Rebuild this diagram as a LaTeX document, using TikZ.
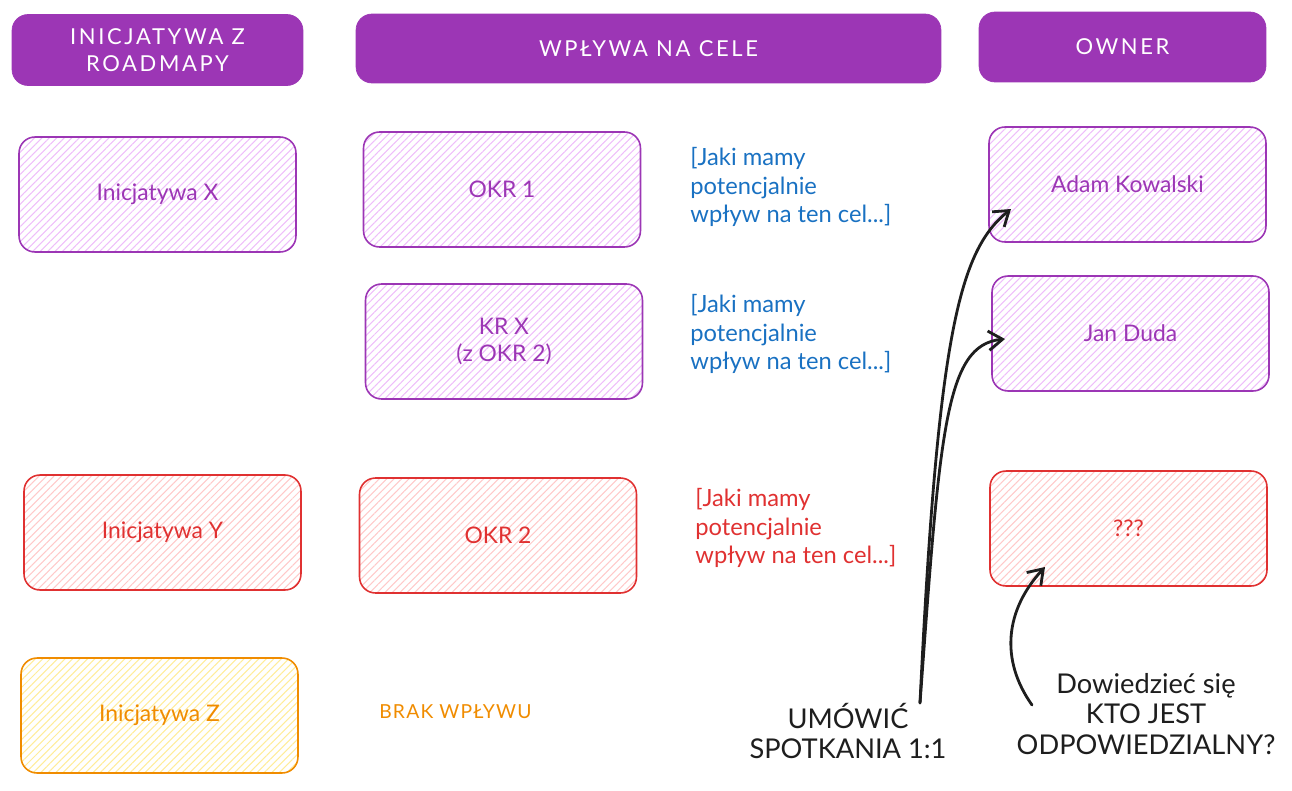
\documentclass[tikz,border=0pt]{standalone}
\usepackage{fontspec}
\setmainfont{Lato}
\usetikzlibrary{arrows.meta,patterns.meta}
\definecolor{Vio}{HTML}{9C36B5}
\definecolor{Viop}{HTML}{EEBEFA}
\definecolor{Rd}{HTML}{E03131}
\definecolor{Rdp}{HTML}{FFC9C9}
\definecolor{Org}{HTML}{F08C00}
\definecolor{Orgp}{HTML}{FFEC99}
\definecolor{Blu}{HTML}{1971C2}
\definecolor{Ink}{HTML}{1E1E1E}

\begin{document}
\begin{tikzpicture}[x=0.02cm,y=-0.02cm,
  head/.style={fill=Vio,draw=Vio,rounded corners=0.32cm,text=white,
    font=\fontsize{12.5}{15}\selectfont\addfontfeatures{LetterSpace=12},align=center,minimum height=1.42cm},
  card/.style={draw=#1,line width=0.9pt,rounded corners=0.32cm,minimum width=5.54cm,
    minimum height=2.3cm,text=#1,font=\fontsize{13}{15}\selectfont,align=center},
  hatch/.style={pattern={Lines[angle=45,distance=3pt,line width=0.6pt]},pattern color=#1},
  note/.style={text=#1,font=\fontsize{13.5}{16}\selectfont,align=left,anchor=west,inner sep=0pt},
  said/.style={text=Ink,font=\fontsize{15.5}{17.5}\selectfont,align=center},
  arr/.style={Ink,line width=1.6pt,line cap=round,-{Straight Barb[length=8pt,width=11pt]}}]
  \useasboundingbox (0,0) rectangle (1292,791);
  \node[head,minimum width=5.82cm] (hinit) at (157.5,50) {INICJATYWA Z\\ROADMAPY};
  \node[head,minimum width=11.7cm,minimum height=1.38cm] (hcele) at (648.5,48.5) {WPŁYWA NA CELE};
  \node[head,minimum width=5.74cm,minimum height=1.4cm] (hown) at (1122.5,47) {OWNER};
  \foreach \nm/\x/\y/\c/\p/\txt in {
    ix/157.5/194.5/Vio/Viop/Inicjatywa X,
    okra/502/189.5/Vio/Viop/OKR 1,
    krx/504/341.5/Vio/Viop/{KR X\\(z OKR 2)},
    adam/1127.5/184.5/Vio/Viop/Adam Kowalski,
    jan/1130.5/333.5/Vio/Viop/Jan Duda,
    iy/162.5/532.5/Rd/Rdp/Inicjatywa Y,
    okrb/498/535.5/Rd/Rdp/OKR 2,
    nobody/1128.5/528.5/Rd/Rdp/???,
    iz/159.5/715.5/Org/Orgp/Inicjatywa Z} {
    \node[card=\c,hatch=\p] (\nm) at (\x,\y) {\txt};
  }
  \node[note=Blu] (wpa) at (690,187) {[Jaki mamy\\potencjalnie\\wpływ na ten cel...]};
  \node[note=Blu] (wpb) at (690,334) {[Jaki mamy\\potencjalnie\\wpływ na ten cel...]};
  \node[note=Rd] (wpc) at (695,528) {[Jaki mamy\\potencjalnie\\wpływ na ten cel...]};
  \node[text=Org,font=\fontsize{11}{13}\selectfont\addfontfeatures{LetterSpace=6},anchor=west,inner sep=0pt] (brak) at (379,712) {BRAK WPŁYWU};
  \node[said] (umow) at (848,731) {UMÓWIĆ\\SPOTKANIA 1:1};
  \node[said] (dowiedz) at (1146,714) {Dowiedzieć się\\KTO JEST\\ODPOWIEDZIALNY?};
  \coordinate (umowtop) at (920,703);
  \coordinate (adamhit) at (1011,209);
  \coordinate (janhit) at (1005,339);
  \coordinate (dowtop) at (1032,705);
  \coordinate (nobodyhit) at (1045,567);
  \draw[arr] (umowtop) .. controls (938,330) and (960,250) .. (adamhit);
  \draw[arr] (umowtop) .. controls (940,430) and (945,345) .. (janhit);
  \draw[arr] (dowtop) .. controls (1000,660) and (1005,610) .. (nobodyhit);
\end{tikzpicture}
\end{document}
